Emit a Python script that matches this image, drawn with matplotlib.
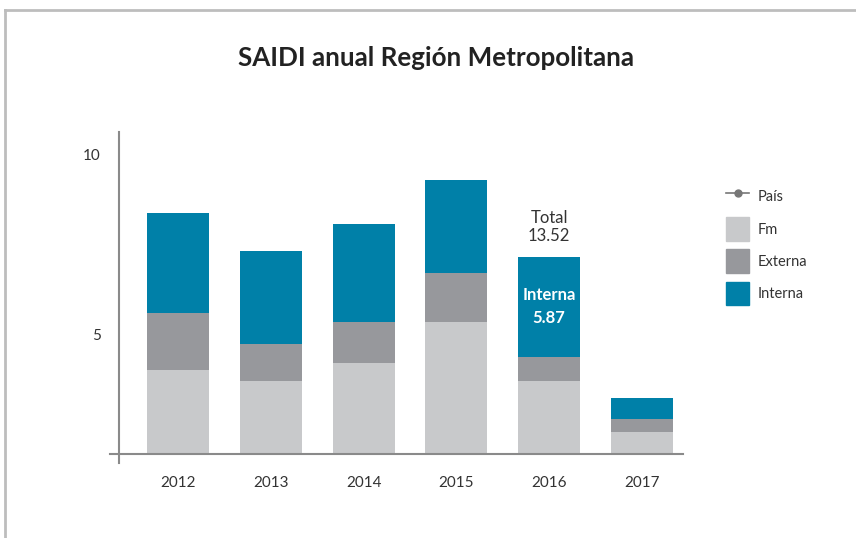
import matplotlib.pyplot as plt
from matplotlib.lines import Line2D
from matplotlib.patches import Patch
import numpy as np

# datos
years = ['2012', '2013', '2014', '2015', '2016', '2017']
fm = [3.99, 3.69, 4.19, 5.34, 3.69, 2.26]
externa = [1.61, 1.03, 1.15, 1.36, 0.67, 0.37]
interna = [2.78, 2.60, 2.73, 2.60, 2.79, 0.58]
yticks = [5, 10]

c_fm = '#c8c9cb'
c_ext = '#97989c'
c_int = '#0080a8'
c_txt = '#333333'
c_axis = '#8a8a8a'

plt.rcParams['font.family'] = ['Lato', 'DejaVu Sans']

fig = plt.figure(figsize=(8.56, 5.38), dpi=100)
ax = fig.add_axes([119/856, 84/538, 564/856, 322/538])

x = np.arange(len(years))
w = 0.668
fm_a = np.array(fm)
ext_a = np.array(externa)
int_a = np.array(interna)
ax.bar(x, fm_a, w, color=c_fm, zorder=2)
ax.bar(x, ext_a, w, bottom=fm_a, color=c_ext, zorder=2)
ax.bar(x, int_a, w, bottom=fm_a + ext_a, color=c_int, zorder=2)

ax.set_xlim(-0.636, 5.442)
ax.set_ylim(1.65, 10.64)
ax.set_xticks(x)
ax.set_xticklabels(years, fontsize=11, color=c_txt)
ax.set_yticks(yticks)
ax.set_yticklabels([str(v) for v in yticks], fontsize=11, color=c_txt)
ax.tick_params(axis='both', length=0)
ax.tick_params(axis='x', pad=16)
ax.tick_params(axis='y', pad=13)

for s in ['top', 'right', 'left', 'bottom']:
    ax.spines[s].set_visible(False)
# ejes con pequeño sobrante
ax.plot([-0.016, 1.0], [0, 0], color=c_axis, lw=1.5, transform=ax.transAxes, clip_on=False, zorder=3)
ax.plot([0, 0], [-0.028, 1.0], color=c_axis, lw=1.5, transform=ax.transAxes, clip_on=False, zorder=3)

# anotaciones 2016
ax.text(4, 8.24, 'Total', ha='center', va='center', fontsize=12, color=c_txt)
ax.text(4, 7.74, '13.52', ha='center', va='center', fontsize=12, color=c_txt)
ax.text(4, 6.09, 'Interna', ha='center', va='center', fontsize=12, color='white', fontweight='bold')
ax.text(4, 5.45, '5.87', ha='center', va='center', fontsize=12, color='white', fontweight='bold')

fig.text(436/856, 1 - 58/538, 'SAIDI anual Región Metropolitana', ha='center', va='center',
         fontsize=18.7, fontweight='bold', color='#222222')

handles = [Line2D([0], [0], color='#777777', marker='o', markersize=5, lw=1.2),
           Patch(color=c_fm), Patch(color=c_ext), Patch(color=c_int)]
labels = ['País', 'Fm', 'Externa', 'Interna']
fig.legend(handles, labels, loc='upper left', bbox_to_anchor=(726/856, 1 - 185/538),
           frameon=False, fontsize=10.5, handlelength=1.6, handleheight=2.1,
           labelspacing=0.6, handletextpad=0.55, borderpad=0, borderaxespad=0,
           labelcolor=c_txt)

# marco
fig.add_artist(Line2D([5/856, 1], [1 - 10/538, 1 - 10/538], color='#bdbdbd', lw=2))
fig.add_artist(Line2D([5/856, 5/856], [0, 1 - 10/538], color='#bdbdbd', lw=2))

fig.savefig('out.png', dpi=100)
